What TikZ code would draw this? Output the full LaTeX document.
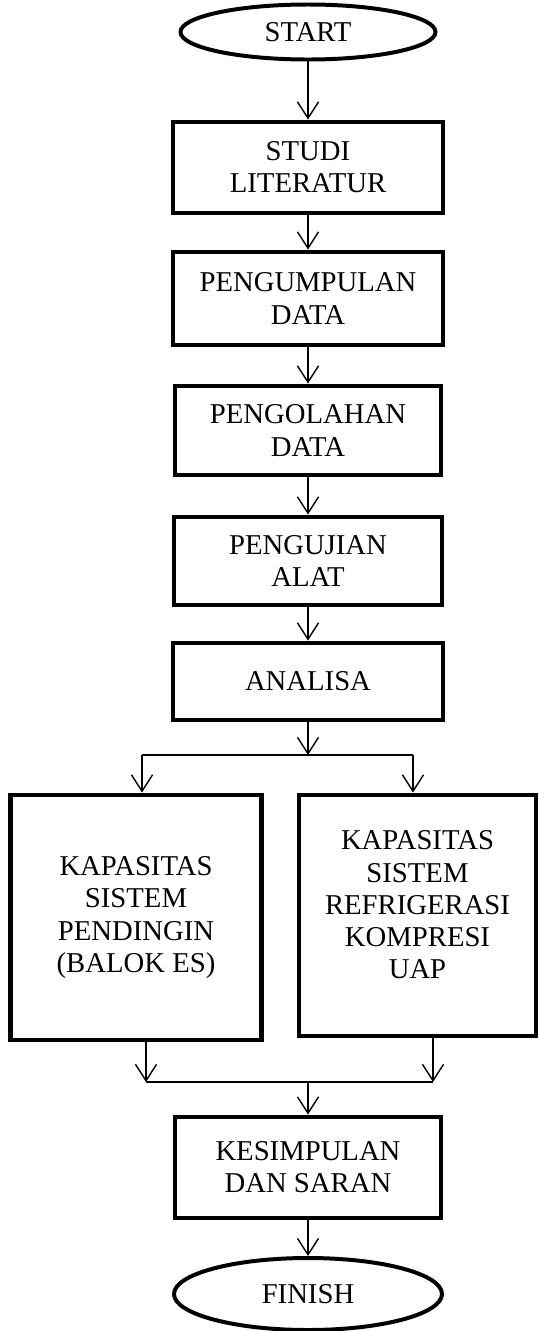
\documentclass[tikz,border=0pt]{standalone}
\usepackage{fontspec}
\setmainfont{Liberation Serif}
\usetikzlibrary{shapes.geometric,arrows.meta}
\tikzset{
  kotak/.style={draw,line width=4.2pt,rectangle,align=center,inner sep=2pt,
    font=\fontsize{24.5}{27.5}\selectfont},
  teks/.style={align=center,inner sep=0pt,font=\fontsize{24.5}{27.5}\selectfont},
  oval/.style={draw,line width=3.4pt,ellipse,inner sep=0pt,
    font=\fontsize{24.5}{27.5}\selectfont},
  panah/.style={line width=1.2pt,-{Straight Barb[length=14pt,width=18pt,line width=1.2pt]}},
  garis/.style={line width=1.2pt}
}
\begin{document}
\begin{tikzpicture}[x=0.03cm,y=-0.03cm]
    \useasboundingbox (0,0) rectangle (539,1331);
    \node[oval,minimum width=255*0.03cm,minimum height=55*0.03cm] (start) at (308,32) {START};
    \foreach \nama/\y/\w/\h/\isi in {
        studi/167.5/270/91/{STUDI\\LITERATUR},
        kumpul/298.5/270/93/{PENGUMPULAN\\DATA},
        olah/430.5/266/89/{PENGOLAHAN\\DATA},
        uji/561/268/88/{PENGUJIAN\\ALAT},
        analisa/681.5/270/77/{ANALISA}}{
      \node[kotak,minimum width=\w*0.03cm,minimum height=\h*0.03cm] (\nama) at (308,\y) {\isi};
    }
    \node[kotak,minimum width=251*0.03cm,minimum height=245*0.03cm] (kiri) at (136,917.5)
      {KAPASITAS\\SISTEM\\PENDINGIN\\(BALOK ES)};
    \node[kotak,minimum width=237*0.03cm,minimum height=241*0.03cm] (kanan) at (417.5,915.5) {};
    \node[teks] (kananteks) at (417.5,905)
      {KAPASITAS\\SISTEM\\REFRIGERASI\\KOMPRESI\\UAP};
    \node[kotak,minimum width=266*0.03cm,minimum height=101*0.03cm] (simpul) at (308,1167.5)
      {KESIMPULAN\\DAN SARAN};
    \node[oval,minimum width=268*0.03cm,minimum height=72*0.03cm] (finish) at (308,1294) {FINISH};

    \foreach \a/\b in {start/studi,studi/kumpul,kumpul/olah,olah/uji,uji/analisa,simpul/finish}{
      \draw[panah] (\a) -- (\b);
    }

    % percabangan
    \coordinate (cabang) at (308,755);
    \coordinate (cabangL) at (142,755);
    \coordinate (cabangR) at (413,755);
    \draw[panah] (analisa) -- (cabang);
    \draw[garis] (cabangL) -- (cabangR);
    \draw[panah] (cabangL) -- (cabangL |- kiri.north);
    \draw[panah] (cabangR) -- (cabangR |- kanan.north);

    % penggabungan
    \coordinate (gabungL) at (146,1082);
    \coordinate (gabungR) at (433,1082);
    \coordinate (gabung) at (308,1082);
    \draw[panah] (gabungL |- kiri.south) -- (gabungL);
    \draw[panah] (gabungR |- kanan.south) -- (gabungR);
    \draw[garis] (gabungL) -- (gabungR);
    \draw[panah] (gabung) -- (simpul);
  \end{tikzpicture}
\end{document}
